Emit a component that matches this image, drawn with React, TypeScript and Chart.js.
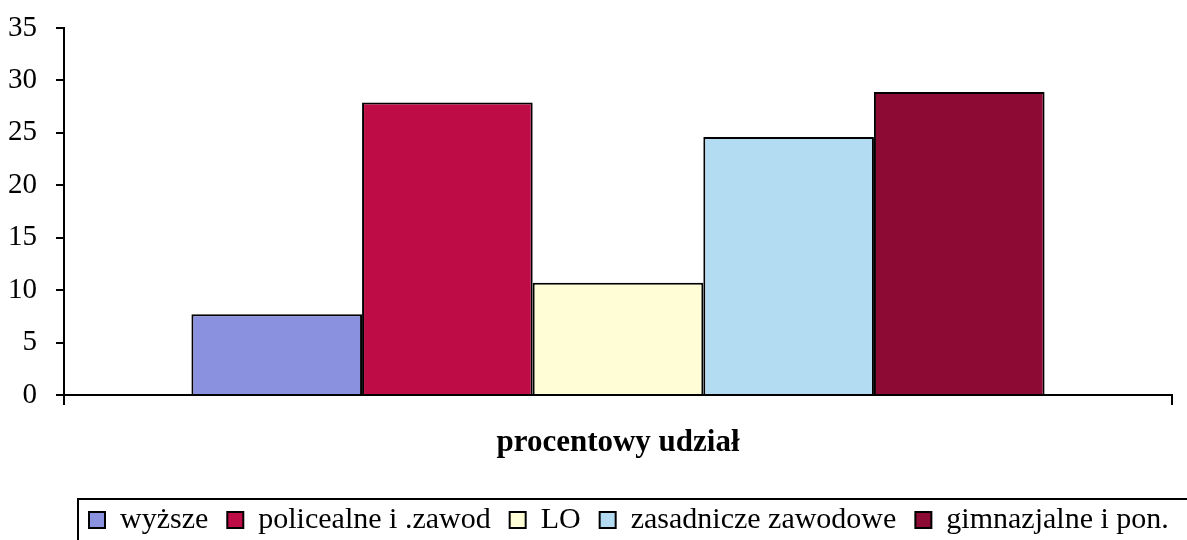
import React, { useEffect, useRef } from "react";
import { Chart, registerables } from "chart.js";

Chart.register(...registerables);

const categories = ["procentowy udział"];
const seriesNames = ["wyższe", "policealne i .zawod", "LO", "zasadnicze zawodowe", "gimnazjalne i pon."];
const wyzsze = [7.7];
const policealne = [27.9];
const lo = [10.7];
const zasadnicze = [24.6];
const gimnazjalne = [28.9];
const seriesValues = [wyzsze, policealne, lo, zasadnicze, gimnazjalne];
const seriesColors = ["#8a92e0", "#be0c46", "#fefdd5", "#b3dcf3", "#8c0a33"];
const yMin = 0;
const yMax = 35;
const yStep = 5;

const FONT = "'Liberation Serif', 'Times New Roman', serif";

const legendFrame = {
  id: "legendFrame",
  afterLayout(chart: any) {
    const lg = chart.legend;
    if (!lg) return;
    const w = lg.right - lg.left;
    lg.left = 70;
    lg.right = 70 + w + 200;
  },
  afterDraw(chart: any) {
    const lg = chart.legend;
    if (!lg) return;
    const ctx = chart.ctx;
    ctx.save();
    ctx.strokeStyle = "#000";
    ctx.lineWidth = 2;
    ctx.strokeRect(lg.left + 8, lg.top + 13, chart.width + 50, 100);
    ctx.restore();
  },
};

export default function App() {
  const ref = useRef<HTMLCanvasElement | null>(null);
  useEffect(() => {
    if (!ref.current) return;
    const chart = new Chart(ref.current, {
      type: "bar",
      data: {
        labels: categories,
        datasets: seriesNames.map((name, i) => ({
          label: name,
          data: seriesValues[i],
          backgroundColor: seriesColors[i],
          borderColor: "#000",
          borderWidth: 2,
          categoryPercentage: 0.77,
          barPercentage: 1,
        })),
      },
      options: {
        animation: false,
        responsive: true,
        maintainAspectRatio: false,
        layout: { padding: { top: 28, right: 15, left: 0, bottom: 0 } },
        plugins: {
          tooltip: { enabled: false },
          legend: {
            position: "bottom",
            align: "start",
            labels: {
              font: { family: FONT, size: 30 },
              color: "#000",
              boxWidth: 16,
              boxHeight: 16,
              padding: 19,
            },
          },
        },
        scales: {
          x: {
            grid: {
              drawOnChartArea: false,
              drawTicks: true,
              tickLength: 10,
              color: "#000",
              lineWidth: 2,
            },
            border: { display: true, color: "#000", width: 2 },
            ticks: {
              font: { family: FONT, size: 31, weight: "bold" },
              color: "#000",
              padding: 19,
            },
            afterFit: (scale: any) => {
              scale.height = 91;
            },
          },
          y: {
            min: yMin,
            max: yMax,
            ticks: {
              stepSize: yStep,
              font: { family: FONT, size: 29 },
              color: "#000",
              padding: 19,
            },
            grid: {
              drawOnChartArea: false,
              drawTicks: true,
              tickLength: 8,
              color: "#000",
              lineWidth: 2,
            },
            border: { display: true, color: "#000", width: 2 },
            afterFit: (scale: any) => {
              scale.width = 64;
              scale.paddingTop = 0;
              scale.paddingBottom = 0;
            },
          },
        },
      },
      plugins: [legendFrame],
    });
    return () => chart.destroy();
  }, []);
  return (
    <div style={{ position: "fixed", left: 0, top: 0, width: 1187, height: 545, background: "#fff" }}>
      <canvas ref={ref} />
    </div>
  );
}
